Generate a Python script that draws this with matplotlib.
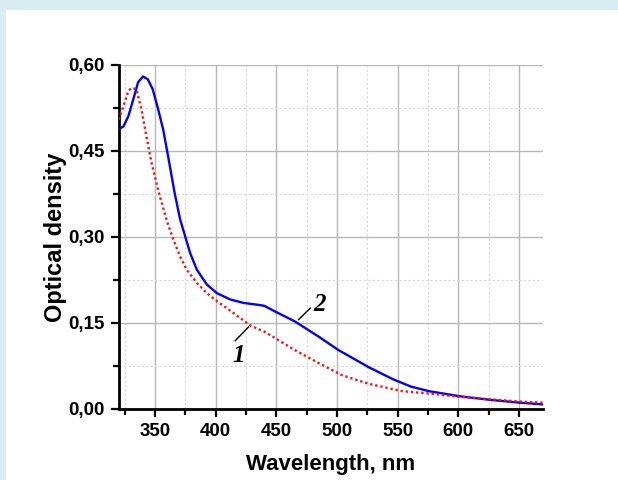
import matplotlib
matplotlib.use("Agg")
import matplotlib.pyplot as plt
from matplotlib.patches import Rectangle
from matplotlib.ticker import MultipleLocator, FuncFormatter

# curve 2 (solid blue)
wl_2 = [320, 324, 328, 332, 336, 340, 344, 348, 352.5, 356.6, 360.7, 366,
        370.6, 374.8, 378.9, 384.4, 392.7, 401, 412, 423, 434, 440, 449, 465,
        485, 501, 526, 546, 561, 576, 602, 626, 651, 670]
od_2 = [0.488, 0.493, 0.511, 0.540, 0.570, 0.580, 0.575, 0.558, 0.523, 0.488,
        0.441, 0.378, 0.331, 0.301, 0.272, 0.243, 0.217, 0.202, 0.191, 0.185,
        0.182, 0.180, 0.170, 0.153, 0.126, 0.103, 0.073, 0.052, 0.039, 0.031,
        0.022, 0.016, 0.011, 0.008]

# curve 1 (red dotted)
wl_1 = [320, 324, 328, 330.5, 334.6, 338.7, 342.8, 347, 353, 359.7, 365,
        370.6, 376, 384.4, 392.7, 401, 409, 429, 440, 451, 465, 485, 504, 526,
        554, 581, 602, 626, 651, 670]
od_1 = [0.505, 0.529, 0.555, 0.560, 0.558, 0.523, 0.476, 0.430, 0.378, 0.328,
        0.296, 0.266, 0.243, 0.220, 0.202, 0.188, 0.176, 0.145, 0.135, 0.121,
        0.103, 0.080, 0.059, 0.044, 0.031, 0.026, 0.021, 0.017, 0.013, 0.011]

plt.rcParams['font.family'] = ['Liberation Sans', 'DejaVu Sans']
plt.rcParams['font.weight'] = 'bold'

fig = plt.figure(figsize=(6.18, 4.80), dpi=100)
fig.patch.set_facecolor('#d8edf2')
# white page area inside the light blue frame
bg = fig.add_axes([6/618, 0, 1 - 6/618, (480-10)/480], zorder=-10)
bg.set_axis_off()
bg.add_patch(Rectangle((0, 0), 1, 1, transform=bg.transAxes, facecolor='white', edgecolor='none'))

ax = fig.add_axes([118.7/618, 1-409/480, (543.3-118.7)/618, (409-65)/480])
ax.set_facecolor('none')

ax.plot(wl_2, od_2, color='#0000ff', lw=1.7, zorder=3)
ax.plot(wl_1, od_1, color='#ff1010', lw=1.7, ls=(0, (1, 1.2)), zorder=3)

ax.set_xlim(320, 670)
ax.set_ylim(0, 0.60)

ax.xaxis.set_major_locator(MultipleLocator(50))
ax.xaxis.set_minor_locator(MultipleLocator(25))
ax.yaxis.set_major_locator(MultipleLocator(0.15))
ax.yaxis.set_minor_locator(MultipleLocator(0.075))
ax.yaxis.set_major_formatter(FuncFormatter(lambda v, p: f"{v:.2f}".replace('.', ',')))

ax.grid(which='major', color='#b8b8b8', lw=1.0, ls='-')
ax.grid(which='minor', color='#d8d8d8', lw=0.8, ls=(0, (2, 2)))

for s in ['top', 'right']:
    ax.spines[s].set_visible(False)
for s in ['left', 'bottom']:
    ax.spines[s].set_linewidth(2)

ax.tick_params(which='major', direction='out', length=6, width=1.6, labelsize=13.5, pad=4)
ax.tick_params(which='minor', direction='out', length=4, width=1.6)

ax.set_xlabel('Wavelength, nm', fontsize=16, fontweight='bold', labelpad=10)
ax.set_ylabel('Optical density', fontsize=17, fontweight='bold', labelpad=1)

# curve labels with leader lines
ax.plot([416, 427], [0.119, 0.143], color='black', lw=1.0, zorder=4)
ax.text(418.8, 0.094, '1', fontsize=18, fontweight='bold', style='italic',
        family='Liberation Serif', ha='center', va='center')
ax.plot([468.3, 478], [0.156, 0.176], color='black', lw=1.0, zorder=4)
ax.text(485.5, 0.182, '2', fontsize=18, fontweight='bold', style='italic',
        family='Liberation Serif', ha='center', va='center')

fig.savefig('out.png', dpi=100)
